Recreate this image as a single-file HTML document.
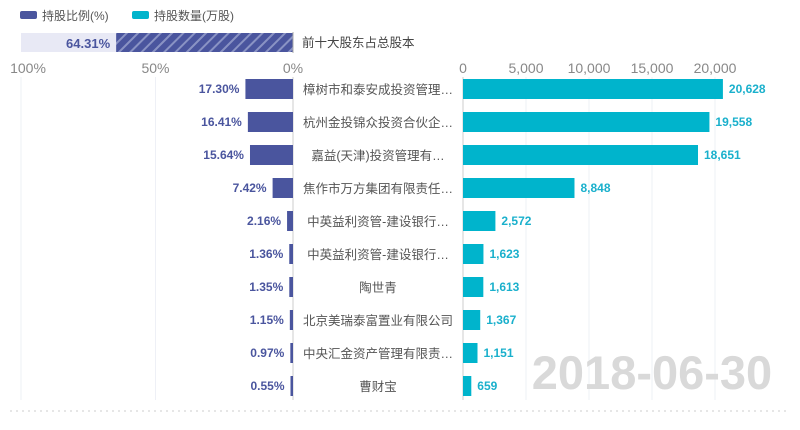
<!DOCTYPE html>
<html><head><meta charset="utf-8"><style>
body{margin:0;background:#fff;width:800px;height:425px;overflow:hidden;font-family:"Liberation Sans","Noto Sans CJK SC",sans-serif;}
svg text{font-family:"Liberation Sans","Noto Sans CJK SC",sans-serif;}
</style></head><body>
<svg id="c" width="800" height="425">
<defs><pattern id="hatch" width="8" height="8" patternUnits="userSpaceOnUse" patternTransform="rotate(45)"><rect width="8" height="8" fill="#4a559e"/><rect width="2" height="8" fill="#8a93c4"/></pattern></defs>
<g>
<rect x="20" y="11" width="17" height="8" rx="2" fill="#4a559e"/>
<text x="42" y="20" font-size="12" fill="#555">持股比例(%)</text>
<rect x="132" y="11" width="17" height="8" rx="2" fill="#00b4cc"/>
<text x="154" y="20" font-size="12" fill="#555">持股数量(万股)</text>
</g>
<g>
<rect x="21" y="33" width="272" height="19" fill="#e8e9f5"/>
<rect id="totbar" y="33" height="19" fill="url(#hatch)"/>
<text id="tottxt" y="48" font-size="13" font-weight="bold" fill="#4a559e" text-anchor="end"></text>
<line x1="293" y1="32" x2="293" y2="53" stroke="#aaa"/>
<text x="302" y="47" font-size="12.5" fill="#444">前十大股东占总股本</text>
</g>
<g id="g"></g>
<text x="652" y="389" font-size="47" font-weight="bold" fill="#d9d9d9" text-anchor="middle">2018-06-30</text>
<line x1="10" y1="411" x2="790" y2="411" stroke="#ccc" stroke-dasharray="2,4"/>
</svg>
<script>
const names=["樟树市和泰安成投资管理…","杭州金投锦众投资合伙企…","嘉益(天津)投资管理有…","焦作市万方集团有限责任…","中英益利资管-建设银行…","中英益利资管-建设银行…","陶世青","北京美瑞泰富置业有限公司","中央汇金资产管理有限责…","曹财宝"];
const ratios=[17.30,16.41,15.64,7.42,2.16,1.36,1.35,1.15,0.97,0.55];
const amounts=[20628,19558,18651,8848,2572,1623,1613,1367,1151,659];
const totalRatio=64.31;
const pctTicks=[100,50,0];
const amtTicks=[0,5000,10000,15000,20000];
const NS="http://www.w3.org/2000/svg";
const xL=v=>293-v*2.75;
const xR=v=>463+v*0.0126;
const yRow=i=>89+i*33;
const g=document.getElementById('g');
function mk(t,a,txt){const e=document.createElementNS(NS,t);for(const k in a)e.setAttribute(k,a[k]);if(txt!==undefined)e.textContent=txt;g.appendChild(e);return e;}
const tb=document.getElementById('totbar');tb.setAttribute('x',xL(totalRatio));tb.setAttribute('width',293-xL(totalRatio));
const tt=document.getElementById('tottxt');tt.setAttribute('x',xL(totalRatio)-6);tt.textContent=totalRatio.toFixed(2)+'%';
pctTicks.forEach(v=>{
 let l=mk('line',{x1:Math.max(21,xL(v)),x2:Math.max(21,xL(v)),y1:77,y2:400,stroke:'#eef0f6'});
 
 
 let t=mk('text',{x:xL(v)+(v==100?10:0),y:73,'font-size':14,fill:'#888','text-anchor':'middle'},v+'%');
 
 
});
amtTicks.forEach(v=>{
 let l=mk('line',{x1:xR(v),x2:xR(v),y1:77,y2:400,stroke:'#eef0f6'});
 
 
 let t=mk('text',{x:xR(v),y:73,'font-size':14,fill:'#888','text-anchor':'middle'},v.toLocaleString('en-US'));
 
 
});
let a1=mk('line',{x1:293,x2:293,y1:77,y2:400,stroke:'#ccc'});


let a2=mk('line',{x1:463,x2:463,y1:77,y2:400,stroke:'#ccc'});


names.forEach((n,i)=>{
 const y=yRow(i);
 const w=Math.max(2.5,293-xL(ratios[i]));
 let b=mk('rect',{x:293-w,y:y-10,width:w,height:20,fill:'#4a559e'});
 
 
 let bl=mk('text',{x:293-w-6,y:y+4,'font-size':12,'font-weight':'bold',fill:'#4a559e','text-anchor':'end'},ratios[i].toFixed(2)+'%');
 
 
 let nl=mk('text',{x:378,y:y+5,'font-size':12.5,fill:'#555','text-anchor':'middle'},n);
 
 
 const w2=Math.max(2.5,xR(amounts[i])-463);
 let r=mk('rect',{x:463,y:y-10,width:w2,height:20,fill:'#00b4cc'});
 
 
 let rl=mk('text',{x:463+w2+6,y:y+4,'font-size':12,'font-weight':'bold',fill:'#1ab0cc'},amounts[i].toLocaleString('en-US'));
 
 
});
</script>
</body></html>
